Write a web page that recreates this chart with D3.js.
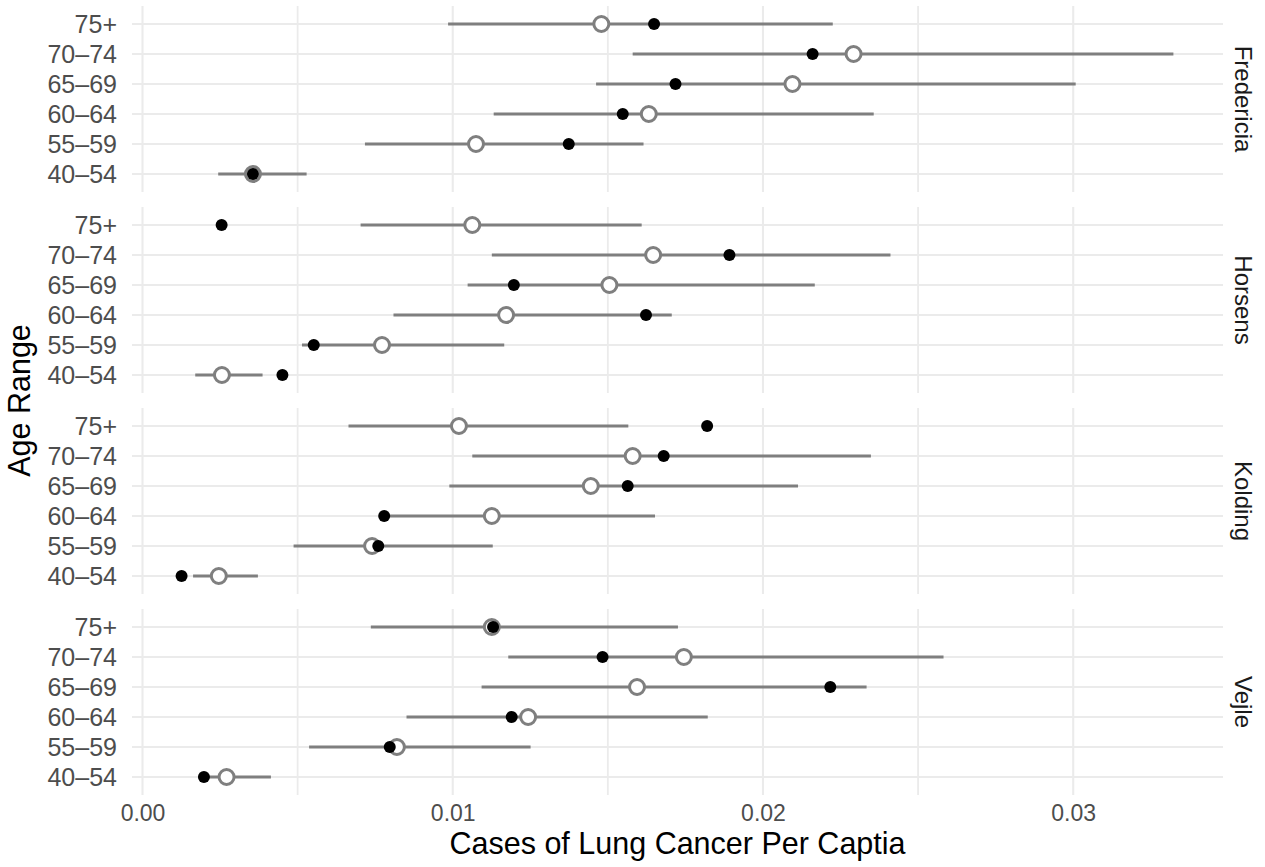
<!DOCTYPE html>
<html>
<head>
<meta charset="utf-8">
<script src="https://cdn.jsdelivr.net/npm/d3@7"></script>
<style>
  body { margin: 0; background: #fff; }
  svg { font-family: "Liberation Sans", Arial, sans-serif; }
</style>
</head>
<body>
<svg width="1265" height="867"></svg>
<script>
// facets and age groups (bottom to top)
const regions = ['Fredericia', 'Horsens', 'Kolding', 'Vejle'];
const ages = ['40–54', '55–59', '60–64', '65–69', '70–74', '75+'];

// interval low / high, expected (open circle), observed (black dot), one row per region
const lowVals = [
  [0.00244, 0.00717, 0.01132, 0.01462, 0.01580, 0.00985],
  [0.00170, 0.00514, 0.00809, 0.01048, 0.01126, 0.00703],
  [0.00163, 0.00487, 0.00790, 0.00989, 0.01063, 0.00664],
  [0.00210, 0.00537, 0.00851, 0.01093, 0.01179, 0.00736]
];
const highVals = [
  [0.00529, 0.01615, 0.02357, 0.03008, 0.03323, 0.02225],
  [0.00387, 0.01166, 0.01706, 0.02167, 0.02411, 0.01609],
  [0.00372, 0.01129, 0.01652, 0.02113, 0.02348, 0.01566],
  [0.00414, 0.01251, 0.01822, 0.02334, 0.02582, 0.01726]
];
const expectedVals = [
  [0.00356, 0.01075, 0.01632, 0.02095, 0.02292, 0.01479],
  [0.00256, 0.00772, 0.01172, 0.01505, 0.01646, 0.01063],
  [0.00246, 0.00740, 0.01126, 0.01445, 0.01580, 0.01020],
  [0.00271, 0.00820, 0.01243, 0.01594, 0.01745, 0.01126]
];
const observedVals = [
  [0.00356, 0.01374, 0.01548, 0.01718, 0.02160, 0.01649],
  [0.00451, 0.00552, 0.01623, 0.01197, 0.01892, 0.00255],
  [0.00126, 0.00760, 0.00779, 0.01564, 0.01680, 0.01820],
  [0.00198, 0.00797, 0.01190, 0.02217, 0.01483, 0.01130]
];
const xTickVals = [0, 0.01, 0.02, 0.03];
const xLabel = 'Cases of Lung Cancer Per Captia';
const yLabel = 'Age Range';

const data = [];
regions.forEach((r, i) => ages.forEach((a, j) => data.push({
  region: r, age: a,
  low: lowVals[i][j], high: highVals[i][j],
  expected: expectedVals[i][j], observed: observedVals[i][j]
})));

const svg = d3.select('svg');
const panelLeft = 132, panelRight = 1223;
const panelTop = 6, panelH = 186, panelGap = 15;

const allVals = data.flatMap(d => [d.low, d.high, d.expected, d.observed]);
const [mn, mx] = d3.extent(allVals);
const pad = (mx - mn) * 0.05;
const xScale = d3.scaleLinear().domain([mn - pad, mx + pad]).range([panelLeft, panelRight]);

const minorTicks = d3.range(-0.005, 0.04, 0.01).filter(v => v > mn - pad && v < mx + pad);

const gray = '#7f7f7f';
const grid = '#ebebeb';

regions.forEach((region, i) => {
  const top = panelTop + i * (panelH + panelGap);
  const yScale = d3.scalePoint()
    .domain(ages.slice().reverse())
    .range([top, top + panelH])
    .padding(0.6);

  const g = svg.append('g');

  // grid
  g.selectAll('.minor').data(minorTicks).enter().append('line')
    .attr('x1', d => xScale(d)).attr('x2', d => xScale(d))
    .attr('y1', top).attr('y2', top + panelH)
    .attr('stroke', grid).attr('stroke-width', 1.8);
  g.selectAll('.major').data(xTickVals).enter().append('line')
    .attr('x1', d => xScale(d)).attr('x2', d => xScale(d))
    .attr('y1', top).attr('y2', top + panelH)
    .attr('stroke', grid).attr('stroke-width', 2.1);
  g.selectAll('.hgrid').data(ages).enter().append('line')
    .attr('x1', panelLeft).attr('x2', panelRight)
    .attr('y1', d => yScale(d)).attr('y2', d => yScale(d))
    .attr('stroke', grid).attr('stroke-width', 2.1);

  // y axis labels
  const yAxisG = g.append('g')
    .attr('transform', `translate(${panelLeft},0)`)
    .call(d3.axisLeft(yScale).tickSize(0).tickPadding(15));
  yAxisG.select('.domain').remove();
  yAxisG.selectAll('text')
    .attr('font-family', '"Liberation Sans", Arial, sans-serif')
    .attr('font-size', 25)
    .attr('fill', '#4d4d4d')
    .attr('dy', '0.35em');

  const rows = data.filter(d => d.region === region);

  g.selectAll('.range').data(rows).enter().append('line')
    .attr('x1', d => xScale(d.low)).attr('x2', d => xScale(d.high))
    .attr('y1', d => yScale(d.age)).attr('y2', d => yScale(d.age))
    .attr('stroke', gray).attr('stroke-width', 2.8);

  g.selectAll('.expected').data(rows).enter().append('circle')
    .attr('cx', d => xScale(d.expected)).attr('cy', d => yScale(d.age))
    .attr('r', 7.5)
    .attr('fill', '#fff').attr('stroke', gray).attr('stroke-width', 3);

  g.selectAll('.observed').data(rows).enter().append('circle')
    .attr('cx', d => xScale(d.observed)).attr('cy', d => yScale(d.age))
    .attr('r', 6)
    .attr('fill', '#000');

  // strip label
  g.append('text')
    .attr('transform', `translate(1235,${top + panelH / 2}) rotate(90)`)
    .attr('text-anchor', 'middle')
    .attr('font-size', 24)
    .attr('fill', '#1a1a1a')
    .text(region);
});

// x axis labels
const xAxisG = svg.append('g')
  .attr('transform', `translate(0,${panelTop + 4 * panelH + 3 * panelGap})`)
  .call(d3.axisBottom(xScale).tickValues(xTickVals).tickFormat(d3.format('.2f')).tickSize(0));
xAxisG.select('.domain').remove();
xAxisG.selectAll('text')
  .attr('font-family', '"Liberation Sans", Arial, sans-serif')
  .attr('font-size', 23)
  .attr('fill', '#4d4d4d')
  .attr('y', 26)
  .attr('dy', 0);

svg.append('text')
  .attr('x', (panelLeft + panelRight) / 2)
  .attr('y', 854)
  .attr('text-anchor', 'middle')
  .attr('font-size', 30.5)
  .attr('fill', '#000')
  .text(xLabel);

svg.append('text')
  .attr('transform', `translate(30,${panelTop + (4 * panelH + 3 * panelGap) / 2}) rotate(-90)`)
  .attr('text-anchor', 'middle')
  .attr('font-size', 30.5)
  .attr('fill', '#000')
  .text(yLabel);
</script>
</body>
</html>
